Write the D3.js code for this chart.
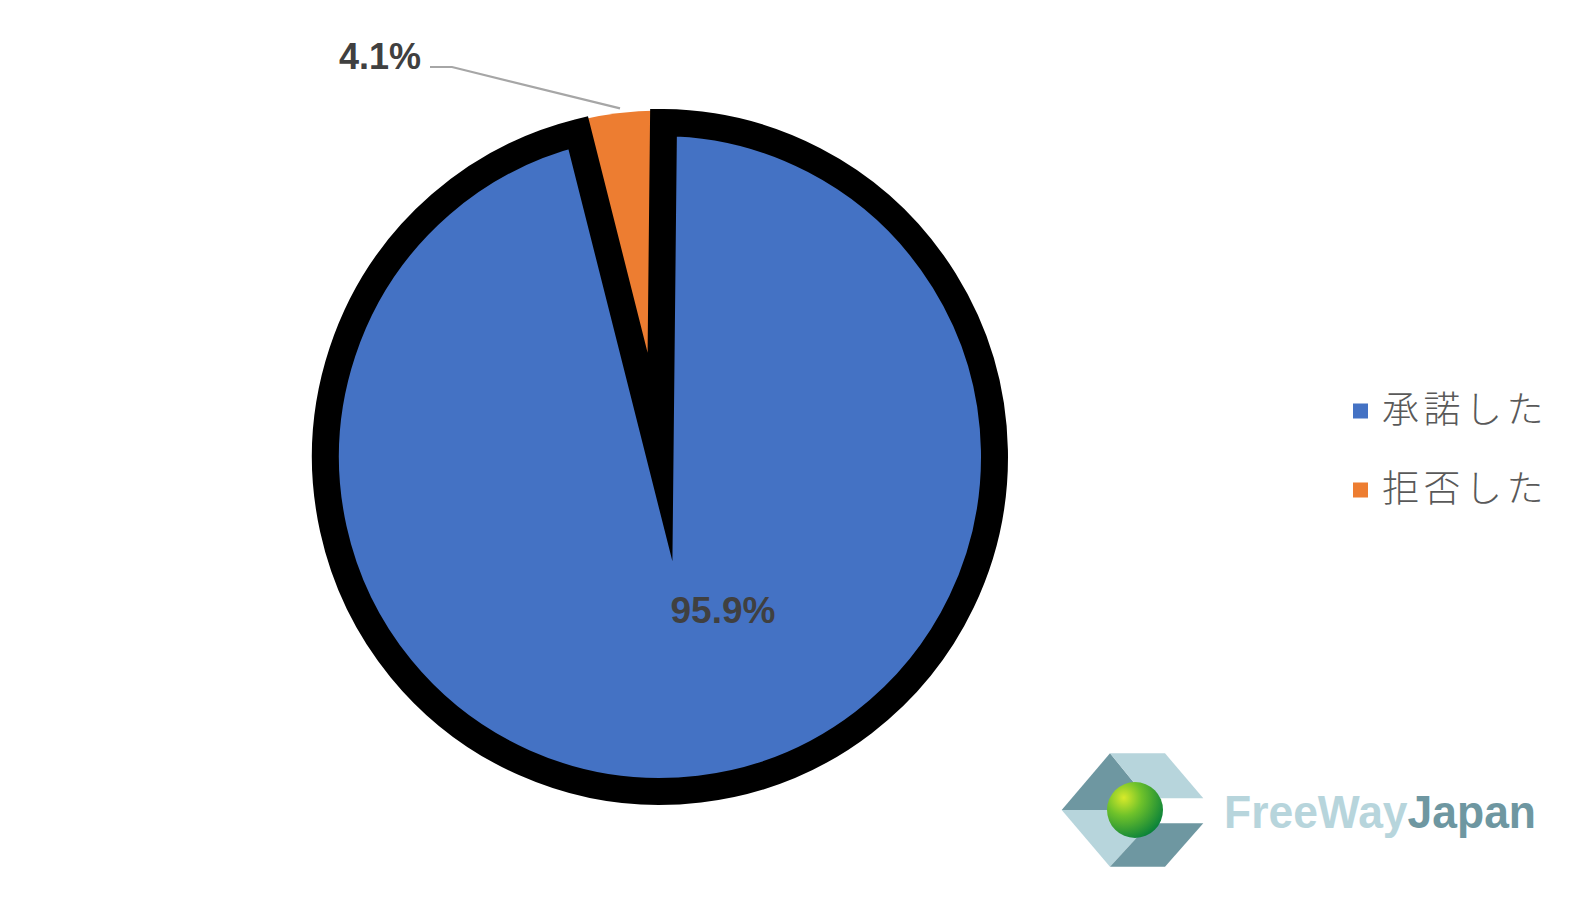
<!DOCTYPE html>
<html>
<head>
<meta charset="utf-8">
<script src="https://cdn.jsdelivr.net/npm/d3@7"></script>
<style>
  html, body { margin: 0; padding: 0; background: #ffffff; }
  svg { display: block; }
</style>
</head>
<body>
<svg id="chart" width="1594" height="901"></svg>
<script>
// ---- data ----
const categories = ["承諾した", "拒否した"];
const values = [95.9, 4.1];
const valueLabels = ["95.9%", "4.1%"];
const colors = ["#4472C4", "#ED7D31"];
const logoWords = ["FreeWay", "Japan"];

// ---- layout ----
const W = 1594, H = 901;
const cx = 660, cy = 457;
const R = 334.5;          // slice radius (stroke centred on it)
const strokeW = 27;
const rot = 0.6 * Math.PI / 180;   // first slice angle

const svg = d3.select("#chart");
svg.append("rect").attr("width", W).attr("height", H).attr("fill", "#ffffff");

const pie = d3.pie().sort(null).value(d => d)
  .startAngle(rot).endAngle(2 * Math.PI + rot)(values);
const g = svg.append("g").attr("transform", `translate(${cx},${cy})`);

const arcBlue = d3.arc().innerRadius(0).outerRadius(R);
const arcOrange = d3.arc().innerRadius(0).outerRadius(R + strokeW / 2 - 1.5);

// orange slice (no border) drawn first
g.append("path")
  .attr("d", arcOrange(pie[1]))
  .attr("fill", colors[1]);

// blue slice with heavy black border
g.append("path")
  .attr("d", arcBlue(pie[0]))
  .attr("fill", colors[0])
  .attr("stroke", "#000000")
  .attr("stroke-width", strokeW)
  .attr("stroke-linejoin", "miter")
  .attr("stroke-miterlimit", 12);

// label for large slice
g.append("text")
  .attr("x", 63).attr("y", 166)
  .attr("text-anchor", "middle")
  .attr("font-family", "Arial, 'Liberation Sans', sans-serif")
  .attr("font-weight", "bold")
  .attr("font-size", 37)
  .attr("fill", "#404040")
  .text(valueLabels[0]);

// leader line + label for small slice
const midA = (pie[1].startAngle + pie[1].endAngle) / 2;
const edgeR = R + strokeW / 2 - 1;
const ex = Math.sin(midA) * edgeR + 1, ey = -Math.cos(midA) * edgeR - 4;
const lx = 452 - cx, ly = 67 - cy;
g.append("polyline")
  .attr("points", `${430 - cx},${ly} ${lx},${ly} ${ex},${ey}`)
  .attr("fill", "none")
  .attr("stroke", "#A6A6A6")
  .attr("stroke-width", 2.2);
g.append("text")
  .attr("x", 421 - cx).attr("y", 69 - cy)
  .attr("text-anchor", "end")
  .attr("font-family", "Arial, 'Liberation Sans', sans-serif")
  .attr("font-weight", "bold")
  .attr("font-size", 36)
  .attr("fill", "#404040")
  .text(valueLabels[1]);

// ---- legend ----
const legend = svg.append("g");
const legendY = d3.scalePoint().domain(categories).range([411, 490]);
categories.forEach((c, i) => {
  const y = legendY(c);
  legend.append("rect")
    .attr("x", 1353).attr("y", y - 7.5)
    .attr("width", 15).attr("height", 15)
    .attr("fill", colors[i]);
  legend.append("text")
    .attr("x", 1382).attr("y", y + 12)
    .attr("font-family", "'Noto Sans CJK JP', sans-serif")
    .attr("font-weight", 300)
    .attr("font-size", 37)
    .attr("letter-spacing", 4.5)
    .attr("fill", "#595959")
    .text(c);
});

// ---- logo ----
const logo = svg.append("g");
const dark = "#6E97A1", light = "#B7D5DC";
const polys = [
  {pts: [[1061.7,810],[1110,753.3],[1146.7,798.3],[1140,810]], fill: dark},
  {pts: [[1110,753.3],[1165,753.3],[1203.3,798.3],[1146.7,798.3]], fill: light},
  {pts: [[1061.7,810],[1140,810],[1150,823.3],[1110,866.7]], fill: light},
  {pts: [[1110,866.7],[1165,866.7],[1203.3,823.3],[1150,823.3]], fill: dark}
];
polys.forEach(p => {
  logo.append("polygon")
    .attr("points", p.pts.map(q => q.join(",")).join(" "))
    .attr("fill", p.fill);
});
const defs = svg.append("defs");
const rg = defs.append("radialGradient").attr("id", "ball")
  .attr("cx", "30%").attr("cy", "28%").attr("r", "80%");
rg.append("stop").attr("offset", "0%").attr("stop-color", "#D8EA2A");
rg.append("stop").attr("offset", "40%").attr("stop-color", "#6FC22A");
rg.append("stop").attr("offset", "100%").attr("stop-color", "#07803A");
logo.append("circle")
  .attr("cx", 1135).attr("cy", 810).attr("r", 28)
  .attr("fill", "url(#ball)");
const lt = logo.append("text")
  .attr("x", 1224).attr("y", 828)
  .attr("font-family", "Arial, 'Liberation Sans', sans-serif")
  .attr("font-weight", "bold")
  .attr("font-size", 46)
  .attr("textLength", 312)
  .attr("lengthAdjust", "spacingAndGlyphs");
lt.append("tspan").attr("fill", light).text(logoWords[0]);
lt.append("tspan").attr("fill", dark).text(logoWords[1]);
</script>
</body>
</html>
